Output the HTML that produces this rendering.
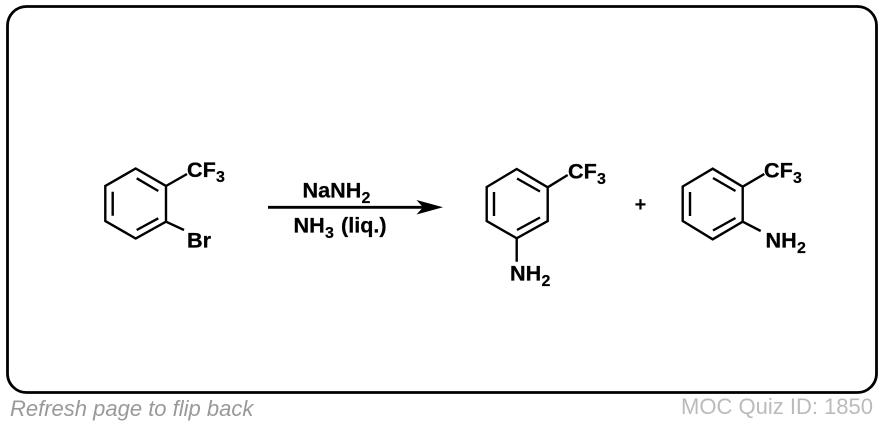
<!DOCTYPE html>
<html>
<head>
<meta charset="utf-8">
<style>
html,body{margin:0;padding:0;background:#fff;width:884px;height:426px;overflow:hidden}
svg{display:block}
text{font-family:"Liberation Sans",Arial,sans-serif}
.b{font-weight:700;font-size:21.6px;fill:#000;stroke:#000;stroke-width:.25}
.s{font-weight:700;font-size:16px;fill:#000;stroke:#000;stroke-width:.2}
.l{fill:none;stroke:#000;stroke-width:2.4;stroke-linejoin:miter;stroke-linecap:butt}
</style>
</head>
<body>
<svg width="884" height="426" viewBox="0 0 884 426" xmlns="http://www.w3.org/2000/svg">
<rect x="7.5" y="6.5" width="869" height="386" rx="19" ry="19" fill="#fff" stroke="#000" stroke-width="2.8"/>

<!-- Molecule 1 -->
<path class="l" d="M135.700 168.500L166 186V221.700L135.700 238.500L105.300 221V186Z"/>
<path class="l" d="M112.700 191.700V215.700M136.700 178.300L158.300 191M136.700 230L158.300 218.300M166 186L187 174M166 221.700L184 230"/>
<text class="b" x="187" y="177">CF</text><text class="s" x="216" y="182">3</text>
<text class="b" x="187" y="247.500">Br</text>

<!-- Arrow -->
<path d="M268 207.300H425" stroke="#000" stroke-width="2.800" fill="none"/>
<path d="M443 207.300L416.500 200L423 207.300L416.500 214.500Z" fill="#000"/>
<text class="b" x="302.500" y="197.500">NaNH</text><text class="s" x="361.500" y="203">2</text>
<text class="b" x="293.500" y="232.500">NH</text><text class="s" x="325" y="238">3</text>
<text class="b" x="341" y="232.500">(liq.)</text>

<!-- Molecule 2 -->
<path class="l" d="M516.700 169L547.700 187.300V221L516.700 238.300L486.700 221V187Z"/>
<path class="l" d="M494 192V216M517 178.500L540 191.500M517 230L540 217.500M547.700 187.300L567.700 175M516.700 238.300V261.700"/>
<text class="b" x="568" y="178.500">CF</text><text class="s" x="597" y="184">3</text>
<text class="b" x="510" y="280.500">NH</text><text class="s" x="541.500" y="286">2</text>
<text x="640.500" y="211" text-anchor="middle" style="font-weight:700;font-size:20px">+</text>

<!-- Molecule 3 -->
<path class="l" d="M712.700 168.700L742.700 186.700V221.700L712.700 239.300L682.700 221V186.500Z"/>
<path class="l" d="M690 192V216M713 178L735.500 191M713 230.500L735.500 218M742.700 186.700L764.300 174M742.700 221.700L760.700 231"/>
<text class="b" x="764" y="177.500">CF</text><text class="s" x="793" y="183">3</text>
<text class="b" x="765.500" y="247.500">NH</text><text class="s" x="797" y="253">2</text>

<!-- Footer -->
<text x="10" y="416" style="font-style:italic;font-size:22px;fill:#999">Refresh page to flip back</text>
<text x="873" y="414" text-anchor="end" style="font-size:22px;fill:#bbb">MOC Quiz ID: 1850</text>
</svg>
</body>
</html>
